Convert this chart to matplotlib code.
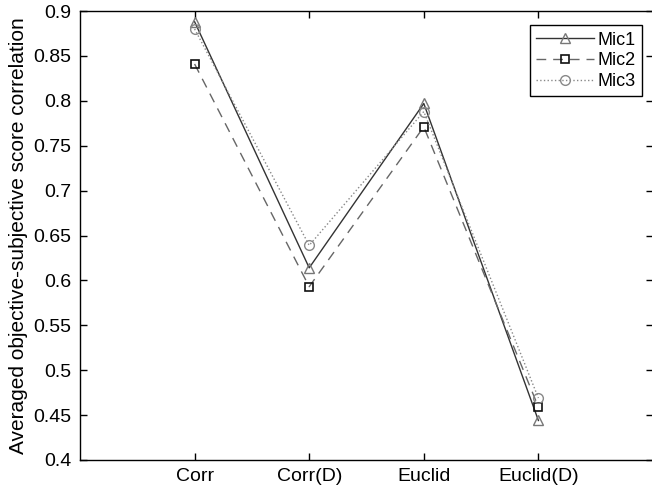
import matplotlib.pyplot as plt
import numpy as np

plt.rcParams['font.family'] = ['Liberation Sans', 'DejaVu Sans']

categories = ['Corr', 'Corr(D)', 'Euclid', 'Euclid(D)']
mic1 = [0.888, 0.614, 0.797, 0.444]
mic2 = [0.841, 0.593, 0.771, 0.459]
mic3 = [0.880, 0.639, 0.788, 0.469]

fig = plt.figure(figsize=(6.52, 4.87), dpi=100)
ax = fig.add_axes([80 / 652, 27 / 487, 573 / 652, 449 / 487])

x = np.arange(1, len(categories) + 1)
ax.plot(x, mic1, '-', color='#333333', lw=1.0, marker='^', ms=7,
        mfc='none', mec='#777777', mew=1.0, label='Mic1')
ax.plot(x, mic2, '--', color='#666666', lw=1.0, dashes=(7, 5), marker='s', ms=6,
        mfc='none', mec='#111111', mew=1.2, label='Mic2')
ax.plot(x, mic3, ':', color='#888888', lw=1.0, marker='o', ms=7,
        mfc='none', mec='#888888', mew=1.0, label='Mic3')

ax.set_xlim(0, 5)
ax.set_ylim(0.4, 0.9)
ax.set_xticks(x)
ax.set_xticklabels(categories)
ax.set_yticks(np.arange(0.4, 0.901, 0.05))
ax.set_yticklabels(['0.4', '0.45', '0.5', '0.55', '0.6', '0.65', '0.7', '0.75', '0.8', '0.85', '0.9'])
ax.tick_params(direction='in', top=True, right=True, labelsize=14, length=5, width=1, pad=6)
ax.set_ylabel('Averaged objective-subjective score correlation', fontsize=15, labelpad=4)

for s in ax.spines.values():
    s.set_linewidth(1.0)

leg = ax.legend(loc='upper right', bbox_to_anchor=(0.99, 0.98), fontsize=13,
                fancybox=False, edgecolor='black', framealpha=1,
                handlelength=3.2, borderpad=0.35, labelspacing=0.2, handletextpad=0.2,
                borderaxespad=0.3)
leg.get_frame().set_linewidth(1.0)

fig.savefig('out.png', dpi=100)
